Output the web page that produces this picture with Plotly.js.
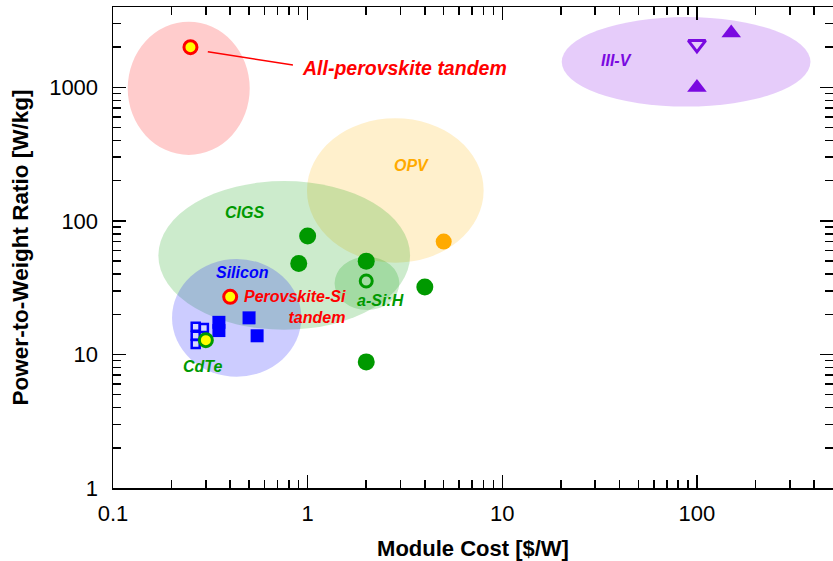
<!DOCTYPE html>
<html>
<head>
<meta charset="utf-8">
<script src="https://cdn.plot.ly/plotly-3.0.1.min.js"></script>
<style>html,body{margin:0;padding:0;background:#fff;}#chart{width:833px;height:561px;}</style>
</head>
<body>
<div id="chart"></div>
<script>
// ---- data (Module cost [$/W], power-to-weight ratio [W/kg]) ----
const allPeroCost = [0.25];
const allPeroPwr = [2000];
const peroSiCost = [0.4];
const peroSiPwr = [27];
const cdteCost = [0.3];
const cdtePwr = [12.8];
const siCost = [0.35, 0.35, 0.5, 0.55];
const siPwr = [17.4, 15.1, 18.8, 13.8];
const siOpenCost = [0.266, 0.266, 0.266, 0.293];
const siOpenPwr = [16.1, 13.8, 12.0, 15.8];
const greenCost = [1.0, 0.9, 2.0, 4.0, 2.0];
const greenPwr = [77, 48, 50, 32, 8.8];
const aSiCost = [2.0];
const aSiPwr = [35.5];
const opvCost = [5.0];
const opvPwr = [70];
const iiivCost = [150, 100];
const iiivPwr = [2550, 1000];
const iiivOpenCost = [100];
const iiivOpenPwr = [2100];

// region ellipses: [xmin, xmax, ymin, ymax]
const regions = {
  allPero: [0.119, 0.504, 312, 3100],
  iiiv: [20.2, 383, 718, 3360],
  opv: [0.992, 8.02, 48.7, 588],
  cigs: [0.171, 3.36, 15.3, 199],
  silicon: [0.201, 0.928, 6.82, 51.9],
  asi: [1.375, 2.96, 21.5, 54]
};

const xTickVals = [0.1, 1, 10, 100];
const xTickText = ['0.1', '1', '10', '100'];
const yTickVals = [1, 10, 100, 1000];
const yTickText = ['1', '10', '100', '1000'];
const xMinor = [0.2,0.3,0.4,0.5,0.6,0.7,0.8,0.9,2,3,4,5,6,7,8,9,20,30,40,50,60,70,80,90,200,300,400];
const yMinor = [2,3,4,5,6,7,8,9,20,30,40,50,60,70,80,90,200,300,400,500,600,700,800,900,2000,3000];

const GREEN = 'rgb(0,153,0)';
const BLUE = 'rgb(0,0,255)';
const RED = 'rgb(255,0,0)';
const ORANGE = 'rgb(255,170,0)';
const PURPLE = 'rgb(122,10,224)';
const YELLOW = 'rgb(255,255,0)';

function ell(r, fill) {
  return {type: 'circle', xref: 'x', yref: 'y', x0: r[0], x1: r[1], y0: r[2], y1: r[3],
    fillcolor: fill, line: {width: 0}, layer: 'below'};
}

const traces = [
  {x: siOpenCost, y: siOpenPwr, mode: 'markers', type: 'scatter',
   marker: {symbol: 'square', size: 8, color: 'rgba(215,215,255,1)', line: {color: BLUE, width: 2.5}}},
  {x: siCost, y: siPwr, mode: 'markers', type: 'scatter',
   marker: {symbol: 'square', size: 13, color: BLUE, line: {width: 0}}},
  {x: greenCost, y: greenPwr, mode: 'markers', type: 'scatter',
   marker: {symbol: 'circle', size: 17, color: GREEN, line: {width: 0}}},
  {x: aSiCost, y: aSiPwr, mode: 'markers', type: 'scatter',
   marker: {symbol: 'circle-open', size: 12, color: GREEN, line: {color: GREEN, width: 3}}},
  {x: opvCost, y: opvPwr, mode: 'markers', type: 'scatter',
   marker: {symbol: 'circle', size: 16, color: ORANGE, line: {width: 0}}},
  {x: iiivCost, y: iiivPwr, mode: 'markers', type: 'scatter',
   marker: {symbol: 'triangle-up', size: 17, color: PURPLE, line: {width: 0}}},
  {x: iiivOpenCost, y: iiivOpenPwr, mode: 'markers', type: 'scatter',
   marker: {symbol: 'triangle-down-open', size: 15, color: PURPLE, line: {color: PURPLE, width: 3}}},
  {x: cdteCost, y: cdtePwr, mode: 'markers', type: 'scatter',
   marker: {symbol: 'circle', size: 13, color: YELLOW, line: {color: GREEN, width: 3}}},
  {x: peroSiCost, y: peroSiPwr, mode: 'markers', type: 'scatter',
   marker: {symbol: 'circle', size: 13, color: YELLOW, line: {color: RED, width: 3}}},
  {x: allPeroCost, y: allPeroPwr, mode: 'markers', type: 'scatter',
   marker: {symbol: 'circle', size: 13, color: YELLOW, line: {color: RED, width: 3}}}
];

const LBL = {family: 'Liberation Sans, Arial, sans-serif', size: 16, weight: 'bold', style: 'italic'};
function lab(text, x, y, color, opts) {
  return Object.assign({text: text, x: Math.log10(x), y: Math.log10(y), xref: 'x', yref: 'y',
    showarrow: false, font: Object.assign({}, LBL, {color: color})}, opts || {});
}

const annotations = [
  lab('All-perovskite tandem', 0.91, 1400, RED, {xanchor: 'left', font: Object.assign({}, LBL, {color: RED, size: 19.5})}),
  lab('III-V', 38.4, 1600, PURPLE),
  lab('OPV', 3.41, 258, ORANGE),
  lab('CIGS', 0.475, 115, GREEN),
  lab('Silicon', 0.465, 40.8, BLUE),
  lab('Perovskite-Si<br>tandem', 1.62, 22.7, RED, {xanchor: 'right', align: 'right'}),
  lab('a-Si:H', 2.37, 25.2, GREEN),
  lab('CdTe', 0.289, 8.06, GREEN)
];

const shapes = [
  ell(regions.allPero, 'rgba(255,0,0,0.2)'),
  ell(regions.iiiv, 'rgba(128,0,230,0.2)'),
  ell(regions.opv, 'rgba(255,180,0,0.2)'),
  ell(regions.cigs, 'rgba(0,153,0,0.2)'),
  ell(regions.silicon, 'rgba(0,0,255,0.2)'),
  ell(regions.asi, 'rgba(0,153,0,0.2)'),
  {type: 'line', xref: 'x', yref: 'y', x0: 0.307, y0: 1850, x1: 0.84, y1: 1470,
   line: {color: RED, width: 1.5}}
];

const AX = {family: 'Liberation Sans, Arial, sans-serif', size: 22, color: '#000'};
const layout = {
  width: 833, height: 561,
  margin: {l: 113, r: 0, t: 7, b: 73},
  paper_bgcolor: '#fff', plot_bgcolor: '#fff',
  showlegend: false,
  font: AX,
  xaxis: {
    type: 'log', range: [-1, Math.log10(500)],
    tickvals: xTickVals, ticktext: xTickText,
    ticks: 'inside', ticklen: 13, tickwidth: 1.5, tickcolor: '#000',
    showline: true, linecolor: '#000', linewidth: 1.5, mirror: 'ticks',
    showgrid: false, zeroline: false, ticklabelstandoff: 5,
    tickfont: AX,
    minor: {tickvals: xMinor, ticks: 'inside', ticklen: 8, tickwidth: 1.5, tickcolor: '#000', showgrid: false},
    title: {text: 'Module Cost [$/W]', standoff: 18, font: {family: AX.family, size: 22, weight: 'bold', color: '#000'}}
  },
  yaxis: {
    type: 'log', range: [0, Math.log10(4000)],
    tickvals: yTickVals, ticktext: yTickText,
    ticks: 'inside', ticklen: 13, tickwidth: 1.5, tickcolor: '#000',
    showline: true, linecolor: '#000', linewidth: 1.5, mirror: 'ticks',
    showgrid: false, zeroline: false, ticklabelstandoff: 9,
    tickfont: AX,
    minor: {tickvals: yMinor, ticks: 'inside', ticklen: 8, tickwidth: 1.5, tickcolor: '#000', showgrid: false},
    title: {text: 'Power-to-Weight Ratio [W/kg]', standoff: 14, font: {family: AX.family, size: 22.5, weight: 'bold', color: '#000'}}
  },
  shapes: shapes,
  annotations: annotations
};

Plotly.newPlot('chart', traces, layout, {displayModeBar: false, staticPlot: true});
</script>
</body>
</html>
